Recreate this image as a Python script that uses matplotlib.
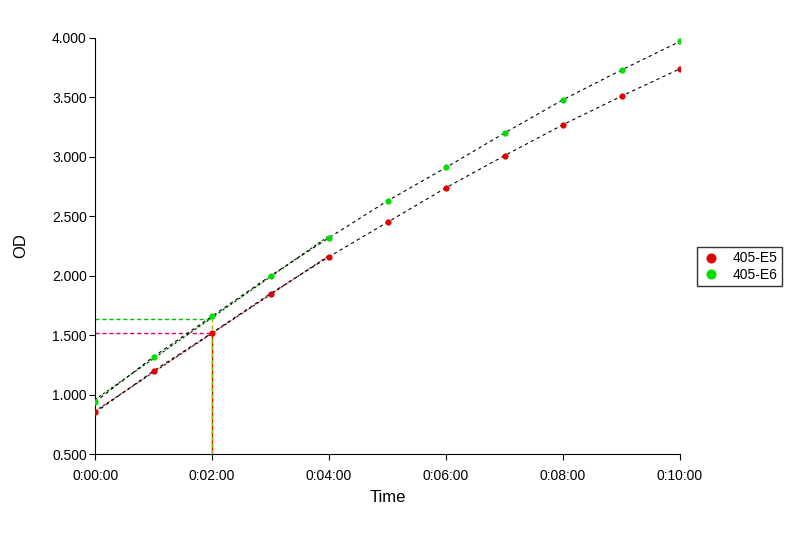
import numpy as np
import matplotlib
matplotlib.use('Agg')
from matplotlib import pyplot as plt
from matplotlib.ticker import FuncFormatter

plt.rcParams['font.family'] = ['Liberation Sans', 'DejaVu Sans']

# time in minutes
time_min = [0, 1, 2, 3, 4, 5, 6, 7, 8, 9, 10]
od_e5 = [0.85, 1.20, 1.52, 1.85, 2.16, 2.45, 2.74, 3.01, 3.27, 3.51, 3.74]
od_e6 = [0.94, 1.32, 1.66, 2.00, 2.32, 2.63, 2.91, 3.20, 3.48, 3.73, 3.97]
labels = ['405-E5', '405-E6']
colors = ['#e00000', '#00dd00']
ref_colors = ['#e0006a', '#00c000']
ref_time = 2
ref_od = [1.52, 1.64]

fig = plt.figure(figsize=(8, 5.33), dpi=100)
ax = fig.add_axes([0.119, 0.148, 0.731, 0.781])

t = np.array(time_min)
for i, (od, lab, c, rc, yr) in enumerate(zip([od_e5, od_e6], labels, colors, ref_colors, ref_od)):
    od = np.array(od)
    # reference lines at 0:02:00
    ax.plot([0, ref_time], [yr, yr], color=rc, lw=1, ls=(0, (3, 2)), zorder=1)
    if i == 0:
        ax.plot([ref_time, ref_time], [0.5, yr], color=c, lw=1, zorder=1)
    else:
        ax.plot([ref_time, ref_time], [0.5, yr], color='#90c000', lw=1, ls=(0, (3, 2)), zorder=1)
    # linear fit on first minutes
    k, b = np.polyfit(t[:5], od[:5], 1)
    ax.plot([0, 4], [b, b + 4 * k], color=c, lw=1, alpha=0.35, zorder=2)
    ax.plot([0, 4], [b, b + 4 * k], color='black', lw=0.7, ls=(0, (2, 3)), zorder=2)
    # curve through points
    ax.plot(t, od, color='black', lw=0.8, ls=(0, (3, 3)), zorder=2)
    ax.plot(t, od, 'o', color=c, ms=4.5, label=lab, zorder=3, markeredgewidth=0)

ax.set_xlim(0, 10)
ax.set_ylim(0.5, 4.0)
ax.set_xticks([0, 2, 4, 6, 8, 10])
ax.xaxis.set_major_formatter(FuncFormatter(lambda v, p: '0:%02d:00' % int(round(v))))
ax.set_yticks(np.arange(0.5, 4.01, 0.5))
ax.yaxis.set_major_formatter(FuncFormatter(lambda v, p: '%.3f' % v))
ax.spines['top'].set_visible(False)
ax.spines['right'].set_visible(False)
ax.tick_params(direction='out', length=4, labelsize=10)
ax.tick_params(axis='x', pad=7)
ax.tick_params(axis='y', pad=2)
ax.set_xlabel('Time', fontsize=12, labelpad=5)
ax.set_ylabel('OD', fontsize=12, labelpad=17)

ax.legend(loc='center left', bbox_to_anchor=(0.871, 0.50), bbox_transform=fig.transFigure,
          frameon=True, fancybox=False, edgecolor='black', fontsize=10,
          handletextpad=0.8, borderpad=0.3, labelspacing=0.15, handlelength=1.5,
          markerscale=1.6, borderaxespad=0)

fig.savefig('out.png', dpi=100)
